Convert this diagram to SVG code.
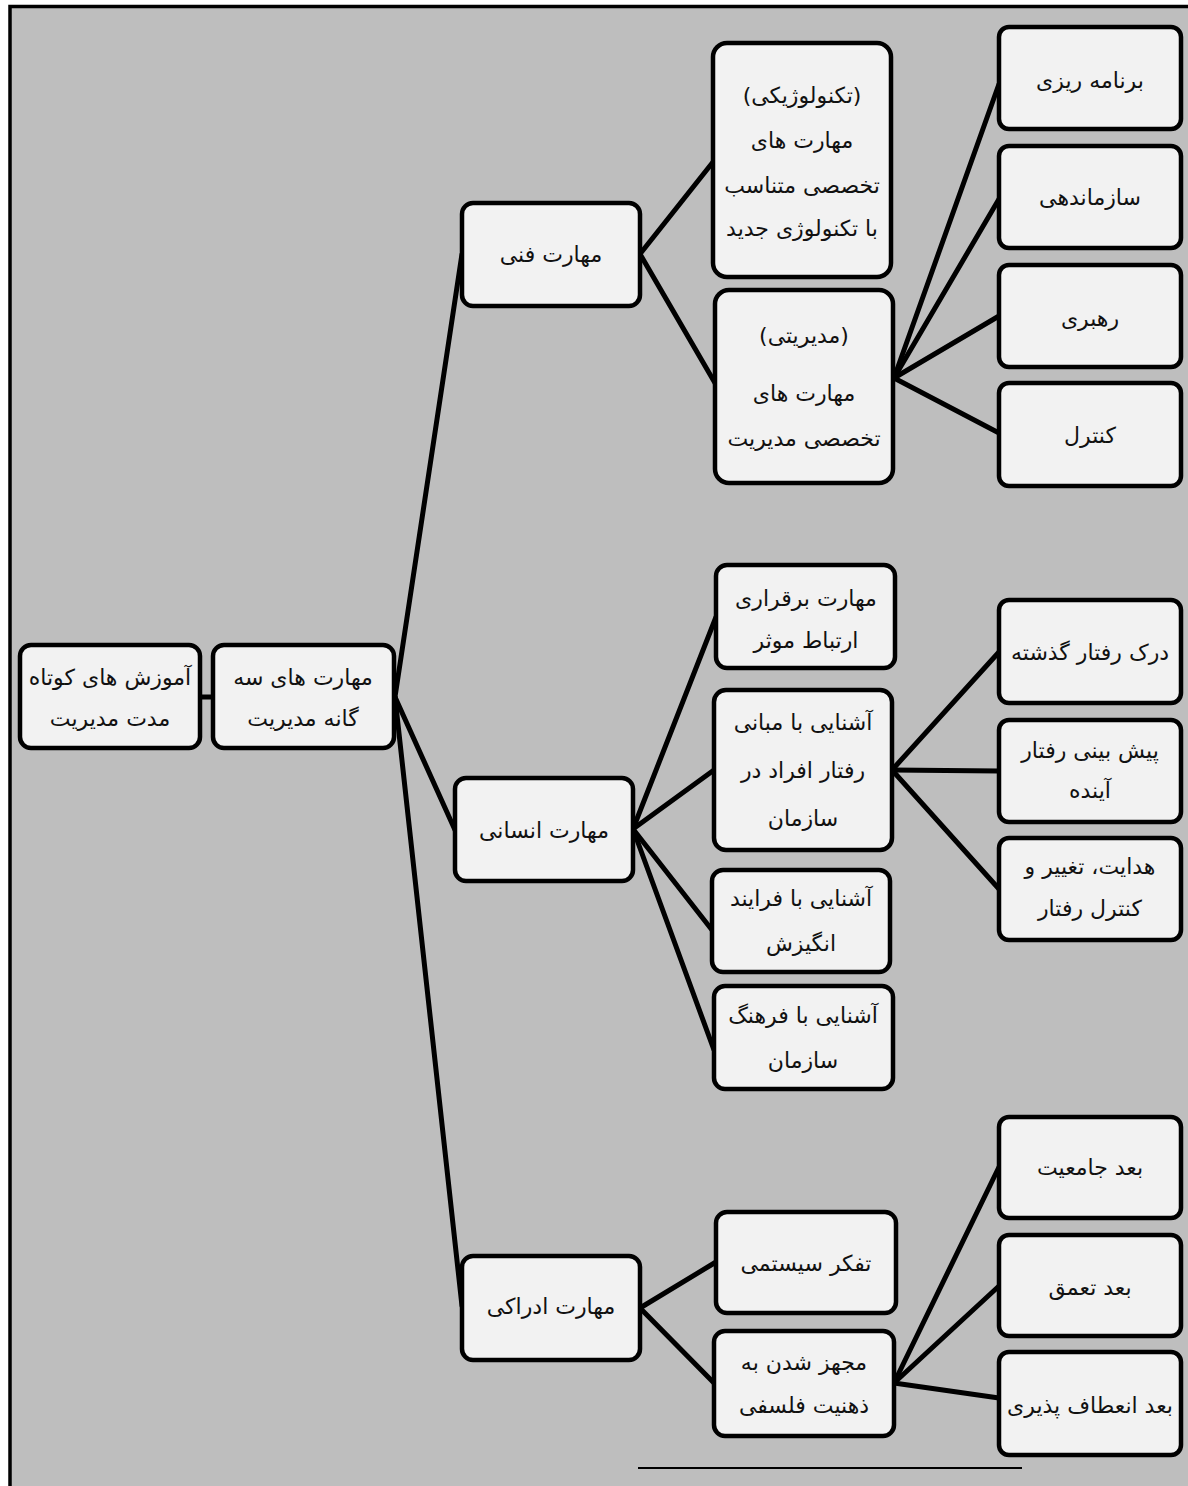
<svg xmlns="http://www.w3.org/2000/svg" width="1188" height="1486" viewBox="0 0 1188 1486">
<style>
.node rect{fill:#f2f2f2;stroke:#000;stroke-width:4.5}
.node text{font-family:"DejaVu Sans","Noto Sans",sans-serif;font-size:22px;fill:#111;text-anchor:middle;dominant-baseline:central;direction:rtl}
#connectors line{stroke:#000;stroke-width:5;stroke-linecap:round}
</style>
<rect x="0" y="0" width="1188" height="1486" fill="#ffffff"/>
<rect x="10" y="6.5" width="1200" height="1500" fill="#bebebe" stroke="#000" stroke-width="3.5"/>
<g id="connectors">
<line x1="200" y1="697" x2="213" y2="697"/>
<line x1="395" y1="697" x2="462" y2="254"/>
<line x1="395" y1="697" x2="455" y2="830"/>
<line x1="395" y1="697" x2="462" y2="1306"/>
<line x1="640" y1="254" x2="713" y2="162"/>
<line x1="640" y1="254" x2="715" y2="383"/>
<line x1="894" y1="378" x2="999" y2="84"/>
<line x1="894" y1="378" x2="999" y2="199"/>
<line x1="894" y1="378" x2="999" y2="316"/>
<line x1="894" y1="378" x2="999" y2="433"/>
<line x1="633" y1="829" x2="716" y2="617"/>
<line x1="633" y1="829" x2="714" y2="770"/>
<line x1="633" y1="829" x2="712" y2="930"/>
<line x1="633" y1="829" x2="714" y2="1050"/>
<line x1="892" y1="770" x2="999" y2="652"/>
<line x1="892" y1="770" x2="999" y2="771"/>
<line x1="892" y1="770" x2="999" y2="889"/>
<line x1="640" y1="1308" x2="716" y2="1262"/>
<line x1="640" y1="1308" x2="714" y2="1383"/>
<line x1="894" y1="1383" x2="999" y2="1167"/>
<line x1="894" y1="1383" x2="999" y2="1286"/>
<line x1="894" y1="1383" x2="999" y2="1398"/>
</g>
<g id="n-root" class="node"><rect x="20" y="645" width="180" height="103" rx="11"/><text x="110" y="677">آموزش های کوتاه</text><text x="110" y="718">مدت مدیریت</text></g>
<g id="n-three" class="node"><rect x="213" y="645" width="181" height="103" rx="11"/><text x="303" y="677">مهارت های سه</text><text x="303" y="718">گانه مدیریت</text></g>
<g id="n-tech" class="node"><rect x="462" y="203" width="178" height="103" rx="11"/><text x="551" y="254">مهارت فنی</text></g>
<g id="n-human" class="node"><rect x="455" y="778" width="178" height="103" rx="11"/><text x="544" y="830">مهارت انسانی</text></g>
<g id="n-concept" class="node"><rect x="462" y="1256" width="178" height="104" rx="11"/><text x="551" y="1306">مهارت ادراکی</text></g>
<g id="n-techno" class="node"><rect x="713" y="43" width="178" height="234" rx="14"/><text x="802" y="95">(تکنولوژیکی)</text><text x="802" y="140">مهارت های</text><text x="802" y="185">تخصصی متناسب</text><text x="802" y="228">با تکنولوژی جدید</text></g>
<g id="n-mgmt" class="node"><rect x="715" y="290" width="178" height="193" rx="14"/><text x="804" y="335">(مدیریتی)</text><text x="804" y="393">مهارت های</text><text x="804" y="438">تخصصی مدیریت</text></g>
<g id="n-plan" class="node"><rect x="999" y="27" width="182" height="102" rx="10"/><text x="1090" y="80">برنامه ریزی</text></g>
<g id="n-org" class="node"><rect x="999" y="146" width="182" height="102" rx="10"/><text x="1090" y="197">سازماندهی</text></g>
<g id="n-lead" class="node"><rect x="999" y="265" width="182" height="102" rx="10"/><text x="1090" y="318">رهبری</text></g>
<g id="n-ctrl" class="node"><rect x="999" y="383" width="182" height="103" rx="10"/><text x="1090" y="435">کنترل</text></g>
<g id="n-comm" class="node"><rect x="716" y="565" width="179" height="103" rx="11"/><text x="806" y="598">مهارت برقراری</text><text x="806" y="640">ارتباط موثر</text></g>
<g id="n-behav" class="node"><rect x="714" y="690" width="178" height="160" rx="12"/><text x="803" y="722">آشنایی با مبانی</text><text x="803" y="770">رفتار افراد در</text><text x="803" y="818">سازمان</text></g>
<g id="n-motiv" class="node"><rect x="712" y="870" width="178" height="102" rx="11"/><text x="801" y="898">آشنایی با فرایند</text><text x="801" y="943">انگیزش</text></g>
<g id="n-cult" class="node"><rect x="714" y="986" width="179" height="103" rx="11"/><text x="803" y="1015">آشنایی با فرهنگ</text><text x="803" y="1060">سازمان</text></g>
<g id="n-past" class="node"><rect x="999" y="600" width="182" height="103" rx="10"/><text x="1090" y="652">درک رفتار گذشته</text></g>
<g id="n-future" class="node"><rect x="999" y="720" width="182" height="102" rx="10"/><text x="1090" y="750">پیش بینی رفتار</text><text x="1090" y="790">آینده</text></g>
<g id="n-guide" class="node"><rect x="999" y="838" width="182" height="102" rx="10"/><text x="1090" y="866">هدایت، تغییر و</text><text x="1090" y="908">کنترل رفتار</text></g>
<g id="n-system" class="node"><rect x="716" y="1212" width="180" height="101" rx="11"/><text x="806" y="1263">تفکر سیستمی</text></g>
<g id="n-philo" class="node"><rect x="714" y="1331" width="180" height="105" rx="11"/><text x="804" y="1362">مجهز شدن به</text><text x="804" y="1405">ذهنیت فلسفی</text></g>
<g id="n-comp" class="node"><rect x="999" y="1117" width="182" height="101" rx="10"/><text x="1090" y="1167">بعد جامعیت</text></g>
<g id="n-depth" class="node"><rect x="999" y="1235" width="182" height="101" rx="10"/><text x="1090" y="1287">بعد تعمق</text></g>
<g id="n-flex" class="node"><rect x="999" y="1352" width="182" height="103" rx="10"/><text x="1090" y="1405">بعد انعطاف پذیری</text></g>
<line x1="638" y1="1468" x2="1022" y2="1468" stroke="#000" stroke-width="2"/>
</svg>
